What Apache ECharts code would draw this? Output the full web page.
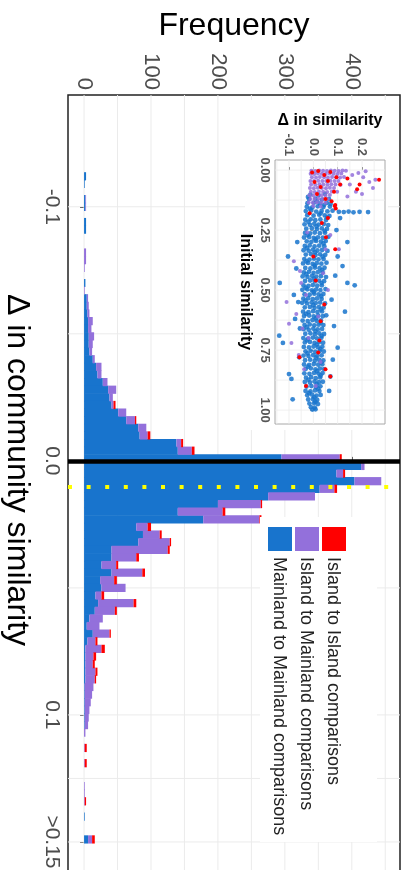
<!DOCTYPE html>
<html><head><meta charset="utf-8">
<script src="https://cdn.jsdelivr.net/npm/echarts@6/dist/echarts.min.js"></script>
<style>html,body{margin:0;padding:0;background:#fff}#c{width:409px;height:870px}</style>
</head><body><div id="c"></div><script>
// ---- histogram bins (Δ in community similarity, bin mid-points, width 0.003; last bin = ">0.15") ----
const binMid = [-0.112,-0.109,-0.106,-0.103,-0.100,-0.097,-0.094,-0.091,-0.088,-0.085,
 -0.082,-0.079,-0.076,-0.073,-0.070,-0.067,-0.064,-0.061,-0.058,-0.055,
 -0.052,-0.049,-0.046,-0.043,-0.040,-0.037,-0.034,-0.031,-0.028,-0.025,
 -0.022,-0.019,-0.016,-0.013,-0.010,-0.007,-0.004,-0.001,0.002,0.005,
 0.008,0.011,0.014,0.017,0.020,0.023,0.026,0.029,0.032,0.035,
 0.038,0.041,0.044,0.047,0.050,0.053,0.056,0.059,0.062,0.065,
 0.068,0.071,0.074,0.077,0.080,0.083,0.086,0.089,0.092,0.095,
 0.098,0.101,0.104,0.107,0.110,0.113,0.116,0.119,0.122,0.125,
 0.128,0.131,0.134,0.137,0.140,0.143,0.146,0.149];
const mainlandToMainland = [3,1,0,2,2,0,3,3,0,0,
 0,0,0,0,2,0,4,4,5,6,
 6,7,7,8,13,18,20,28,36,38,
 41,51,63,81,83,138,140,295,414,377,
 404,352,275,200,140,178,78,88,81,41,
 41,26,41,24,26,17,21,16,8,4,
 13,5,2,2,2,2,2,1,1,1,
 1,1,1,0,0,0,0,0,0,0,
 0,0,0,0,1,0,0,6];
const islandToMainland = [0,0,0,1,1,0,0,0,0,0,
 3,3,1,0,0,1,2,3,3,7,
 5,8,6,4,3,8,6,7,12,5,
 3,12,13,12,12,7,21,87,5,10,
 40,22,70,64,67,84,17,25,47,84,
 37,22,46,21,36,9,53,30,20,19,
 25,12,24,12,11,15,14,13,11,9,
 7,6,5,2,0,1,0,1,0,0,
 1,1,1,0,0,0,0,6];
const islandToIsland = [0,0,0,0,0,0,0,0,0,0,
 0,0,0,0,0,0,0,0,0,0,
 0,0,0,0,0,0,0,0,0,0,
 3,0,2,0,4,3,4,3,0,3,
 0,4,0,2,4,3,5,3,2,3,
 4,3,4,4,0,4,4,3,0,0,
 2,3,5,4,3,3,2,0,0,0,
 0,0,0,0,0,3,0,3,0,0,
 0,0,2,0,0,0,0,4];
const BIN = 0.003;
const seriesNames = ['Mainland to Mainland comparisons','Island to Mainland comparisons','Island to Island comparisons'];
const seriesColors = ['#1874CD','#9370DB','#FF0000'];
const freqTicks = [0,100,200,300,400];
const freqGrid = [0,50,100,150,200,250,300,350,400,450];
const deltaTicks = [-0.1,0,0.1,0.15];
const deltaTickLabels = ['-0.1','0.0','0.1','>0.15'];
const deltaGrid = [-0.1,-0.05,0.05,0.1,0.125,0.15];
const meanDelta = 0.0102;

// ---- inset scatter: [Δ in similarity, initial similarity] ----
const insetMainland = [
 [-0.012,0.102],[0.021,0.104],[0.048,0.099],
 [-0.018,0.121],[0.009,0.119],[0.036,0.123],[0.064,0.120],
 [-0.024,0.138],[0.002,0.136],[0.027,0.140],[0.055,0.137],[0.071,0.141],
 [-0.027,0.153],[-0.004,0.156],[0.018,0.151],[0.041,0.154],[0.068,0.152],
 [-0.031,0.171],[-0.009,0.168],[0.012,0.173],[0.034,0.170],[0.058,0.172],[0.079,0.169],
 [-0.025,0.188],[0.001,0.190],[0.024,0.186],[0.047,0.189],[0.066,0.191],
 [-0.033,0.207],[-0.011,0.205],[0.008,0.209],[0.029,0.206],[0.052,0.208],
 [-0.036,0.226],[-0.014,0.228],[0.004,0.224],[0.022,0.227],[0.043,0.225],[0.061,0.229],
 [-0.029,0.244],[-0.006,0.242],[0.015,0.246],[0.035,0.243],[0.056,0.245],
 [-0.034,0.262],[-0.013,0.264],[0.006,0.260],[0.027,0.263],[0.048,0.261],
 [-0.038,0.281],[-0.017,0.279],[0.002,0.283],[0.019,0.280],[0.039,0.282],[0.062,0.278],
 [-0.027,0.297],[-0.008,0.299],[0.011,0.295],[0.031,0.298],[0.051,0.296],
 [-0.035,0.316],[-0.015,0.314],[0.005,0.318],[0.024,0.315],[0.045,0.317],
 [-0.040,0.334],[-0.019,0.336],[-0.001,0.332],[0.017,0.335],[0.036,0.333],[0.058,0.337],
 [-0.031,0.352],[-0.010,0.350],[0.009,0.354],[0.028,0.351],[0.049,0.353],
 [-0.037,0.371],[-0.016,0.373],[0.003,0.369],[0.021,0.372],[0.042,0.370],
 [-0.042,0.389],[-0.022,0.387],[-0.003,0.391],[0.014,0.388],[0.033,0.390],[0.054,0.386],
 [-0.033,0.408],[-0.012,0.410],[0.007,0.406],[0.026,0.409],[0.046,0.407],
 [-0.039,0.426],[-0.018,0.424],[0.001,0.428],[0.019,0.425],[0.038,0.427],
 [-0.044,0.443],[-0.024,0.445],[-0.005,0.441],[0.012,0.444],[0.031,0.442],[0.052,0.446],
 [-0.034,0.462],[-0.013,0.460],[0.006,0.464],[0.024,0.461],[0.044,0.463],
 [-0.040,0.481],[-0.020,0.483],[-0.002,0.479],[0.016,0.482],[0.035,0.480],
 [-0.045,0.499],[-0.025,0.497],[-0.006,0.501],[0.011,0.498],[0.029,0.500],[0.050,0.496],
 [-0.036,0.517],[-0.015,0.519],[0.004,0.515],[0.022,0.518],[0.041,0.516],
 [-0.041,0.536],[-0.021,0.534],[-0.002,0.538],[0.015,0.535],[0.034,0.537],
 [-0.046,0.553],[-0.026,0.555],[-0.007,0.551],[0.010,0.554],[0.028,0.552],[0.048,0.556],
 [-0.035,0.572],[-0.014,0.570],[0.005,0.574],[0.023,0.571],[0.042,0.573],
 [-0.042,0.590],[-0.020,0.592],[-0.001,0.588],[0.017,0.591],[0.036,0.589],
 [-0.038,0.608],[-0.017,0.606],[0.002,0.610],[0.020,0.607],[0.039,0.609],[0.053,0.605],
 [-0.044,0.627],[-0.023,0.629],[-0.004,0.625],[0.013,0.628],[0.031,0.626],
 [-0.036,0.645],[-0.015,0.643],[0.004,0.647],[0.022,0.644],[0.041,0.646],
 [-0.040,0.663],[-0.019,0.665],[0.000,0.661],[0.018,0.664],[0.036,0.662],
 [-0.033,0.682],[-0.012,0.680],[0.007,0.684],[0.025,0.681],[0.044,0.683],
 [-0.041,0.700],[-0.021,0.702],[-0.002,0.698],[0.015,0.701],[0.033,0.699],
 [-0.035,0.718],[-0.014,0.716],[0.005,0.720],[0.023,0.717],[0.040,0.719],
 [-0.039,0.737],[-0.018,0.739],[0.001,0.735],[0.019,0.738],[0.037,0.736],
 [-0.032,0.755],[-0.011,0.753],[0.008,0.757],[0.026,0.754],[0.043,0.756],
 [-0.040,0.773],[-0.020,0.775],[-0.001,0.771],[0.016,0.774],[0.034,0.772],
 [-0.034,0.792],[-0.013,0.790],[0.006,0.794],[0.024,0.791],[0.041,0.793],
 [-0.038,0.810],[-0.017,0.812],[0.002,0.808],[0.020,0.811],[0.037,0.809],
 [-0.031,0.828],[-0.010,0.826],[0.009,0.830],[0.027,0.827],[0.044,0.829],
 [-0.037,0.847],[-0.016,0.849],[0.003,0.845],[0.021,0.848],[0.038,0.846],
 [-0.030,0.865],[-0.009,0.863],[0.010,0.867],[0.028,0.864],
 [-0.035,0.883],[-0.014,0.885],[0.005,0.881],[0.023,0.884],[0.039,0.882],
 [-0.028,0.902],[-0.008,0.900],[0.011,0.904],[0.029,0.901],
 [-0.032,0.920],[-0.012,0.922],[0.007,0.918],[0.025,0.921],
 [-0.025,0.938],[-0.005,0.936],[0.013,0.940],[0.030,0.937],
 [-0.021,0.956],[-0.002,0.954],[0.016,0.958],
 [-0.016,0.973],[0.003,0.971],[0.019,0.975],
 [-0.010,0.988],[0.006,0.990],[-0.004,0.998],[0.009,0.997],
 [-0.022,0.112],[0.015,0.130],[0.044,0.146],[-0.014,0.161],[0.030,0.180],[0.057,0.198],
 [-0.020,0.216],[0.013,0.235],[0.046,0.253],[-0.024,0.271],[0.009,0.289],[0.041,0.306],
 [-0.026,0.325],[0.007,0.343],[0.038,0.361],[-0.028,0.380],[0.005,0.398],[0.036,0.417],
 [-0.029,0.434],[0.003,0.452],[0.034,0.471],[-0.031,0.490],[0.001,0.508],[0.032,0.526],
 [-0.032,0.544],[0.000,0.563],[0.031,0.581],[-0.030,0.599],[0.011,0.617],[0.030,0.636],
 [-0.027,0.654],[0.009,0.672],[0.034,0.691],[-0.026,0.709],[0.014,0.727],[0.029,0.746],
 [-0.024,0.764],[0.011,0.782],[0.032,0.801],[-0.022,0.819],[0.015,0.838],[0.030,0.856],
 [-0.020,0.874],[0.014,0.892],[0.020,0.911],[-0.018,0.929],[0.004,0.947],[0.008,0.965],
 [-0.138,0.47],[-0.140,0.69],[-0.125,0.72],[-0.104,0.36],[-0.090,0.87],[-0.085,0.955],
 [-0.100,0.85],[-0.075,0.62],[-0.062,0.55],[-0.070,0.41],[-0.058,0.78],[-0.066,0.30],
 [-0.055,0.66],[-0.080,0.52],[0.140,0.30],[0.120,0.40],[0.140,0.47],[0.170,0.48],
 [0.130,0.59],[0.100,0.74],[0.070,0.86],[0.085,0.65],[0.075,0.54],[0.090,0.44],
 [0.065,0.92],[0.080,0.79],[0.100,0.36],[0.105,0.174],[0.125,0.175],[0.145,0.173],
 [0.165,0.176],[0.190,0.174],[0.225,0.175],[0.110,0.200],[0.095,0.250]
];
const insetIslandMainland = [
 [-0.008,0.003],[0.008,0.004],[0.024,0.002],[0.040,0.003],[0.056,0.004],[0.072,0.002],[0.088,0.003],[0.104,0.004],[0.120,0.002],[0.134,0.003],
 [-0.011,0.015],[0.004,0.016],[0.019,0.014],[0.035,0.015],[0.051,0.016],[0.067,0.014],[0.083,0.015],[0.099,0.016],[0.115,0.014],
 [-0.006,0.030],[0.011,0.031],[0.027,0.029],[0.044,0.030],[0.060,0.031],[0.077,0.029],[0.094,0.030],[0.110,0.031],[0.126,0.029],
 [-0.012,0.045],[0.003,0.046],[0.020,0.044],[0.037,0.045],[0.053,0.046],[0.070,0.044],[0.087,0.045],[0.103,0.046],
 [-0.009,0.060],[0.008,0.061],[0.025,0.059],[0.041,0.060],[0.058,0.061],[0.074,0.059],[0.091,0.060],[0.112,0.061],
 [-0.014,0.075],[0.002,0.076],[0.018,0.074],[0.035,0.075],[0.052,0.076],[0.068,0.074],[0.085,0.075],
 [-0.010,0.090],[0.006,0.091],[0.023,0.089],[0.040,0.090],[0.057,0.091],[0.076,0.089],[0.098,0.090],
 [-0.016,0.105],[0.000,0.106],[0.017,0.104],[0.034,0.105],[0.050,0.106],[0.068,0.104],
 [-0.012,0.120],[0.005,0.121],[0.022,0.119],[0.039,0.120],[0.058,0.121],
 [-0.019,0.135],[-0.002,0.136],[0.015,0.134],[0.033,0.135],[0.050,0.136],
 [0.000,0.150],[0.030,0.152],
 [0.160,0.020],[0.185,0.012],[0.205,0.030],[0.230,0.050],[0.245,0.075],[0.255,0.040],
 [0.150,0.060],[0.175,0.090],[0.200,0.100],[0.140,0.110],[0.215,0.005],
 [-0.110,0.55],[-0.090,0.72],[-0.070,0.60],[-0.060,0.77],[-0.050,0.47],[-0.045,0.66],
 [-0.080,0.38],[-0.030,0.52],[0.040,0.43],[0.020,0.61],[-0.020,0.70],[0.060,0.50],
 [-0.055,0.42],[0.030,0.80],[-0.038,0.83],[0.050,0.33],[0.070,0.27],[-0.025,0.26],
 [0.010,0.90],[-0.100,0.64],[0.105,0.33]
];
const insetIslandIsland = [
 [-0.005,0.010],[0.020,0.004],[0.045,0.020],[0.070,0.008],[0.095,0.030],[0.005,0.050],
 [0.030,0.070],[0.060,0.045],[0.085,0.090],[0.110,0.060],[0.015,0.100],[0.050,0.120],
 [0.075,0.130],[0.090,0.145],[0.092,0.160],[0.088,0.150],[0.270,0.040],[0.190,0.060],
 [0.180,0.080],[0.140,0.035],[0.052,0.280],[0.090,0.330],[0.010,0.460],[0.045,0.560],
 [0.030,0.630],[-0.057,0.780],[0.050,0.830],[0.020,0.760],[0.070,0.860],[-0.030,0.900],
 [0.000,0.360],[0.035,0.220],[-0.015,0.180],[0.060,0.200],[0.025,0.710]
];
const insetXTicks = [-0.1,0,0.1,0.2];
const insetXLabels = ['-0.1','0.0','0.1','0.2'];
const insetXGrid = [-0.15,-0.1,-0.05,0,0.05,0.1,0.15,0.2,0.25];
const insetYTicks = [0,0.25,0.5,0.75,1];
const insetYLabels = ['0.00','0.25','0.50','0.75','1.00'];
const insetYGrid = [0,0.125,0.25,0.375,0.5,0.625,0.75,0.875,1];

// ---- build stacked segments ----
const countSets = [mainlandToMainland, islandToMainland, islandToIsland];
const stackedData = countSets.map(() => []);
binMid.forEach((m, i) => {
  let base = 0;
  countSets.forEach((arr, s) => {
    const v = arr[i];
    if (v > 0) stackedData[s].push([m, base, base + v]);
    base += v;
  });
});
function renderBar(params, api) {
  const mid = api.value(0), a = api.value(1), b = api.value(2);
  const p0 = api.coord([a, mid - BIN / 2]);
  const p1 = api.coord([b, mid + BIN / 2]);
  return {type: 'rect', shape: {x: Math.min(p0[0], p1[0]), y: Math.min(p0[1], p1[1]) - 0.3,
    width: Math.abs(p1[0] - p0[0]), height: Math.abs(p1[1] - p0[1]) + 0.6},
    style: {fill: api.visual('color')}};
}
function gridLineRenderer(vertical, color, width) {
  return function (params, api) {
    const cs = params.coordSys;
    const p = api.coord([api.value(0), api.value(1)]);
    const shape = vertical ? {x1: p[0], y1: cs.y, x2: p[0], y2: cs.y + cs.height}
                           : {x1: cs.x, y1: p[1], x2: cs.x + cs.width, y2: p[1]};
    return {type: 'line', shape: shape, style: {stroke: color, lineWidth: width}};
  };
}
function labelFor(ticks, labels) {
  return v => { for (let i = 0; i < ticks.length; i++) if (Math.abs(ticks[i] - v) < 1e-9) return labels[i]; return ''; };
}
const FONT = 'Liberation Sans, Arial, sans-serif';
const chart = echarts.init(document.getElementById('c'), null, {renderer: 'canvas'});
const barSeries = seriesNames.map((n, s) => ({
  type: 'custom', name: n, xAxisIndex: 0, yAxisIndex: 0, z: 2,
  itemStyle: {color: seriesColors[s]}, renderItem: renderBar,
  encode: {x: [1, 2], y: 0}, data: stackedData[s], silent: true
}));
const insetSets = [insetMainland, insetIslandMainland, insetIslandIsland];
const insetSeries = insetSets.map((d, s) => ({
  type: 'scatter', name: seriesNames[s], xAxisIndex: 1, yAxisIndex: 1, z: 6,
  symbolSize: s === 0 ? 4.8 : 4, itemStyle: {color: seriesColors[s], opacity: s === 2 ? 1 : 0.85},
  data: d, silent: true
}));
const legendGraphics = [];
const legX = [268, 295, 322];
seriesNames.forEach((n, s) => {
  legendGraphics.push({type: 'rect', z: 20, shape: {x: legX[s], y: 527, width: 24, height: 24}, style: {fill: seriesColors[s]}});
  legendGraphics.push({type: 'text', z: 20, x: legX[s] + 11, y: 557, rotation: -Math.PI / 2,
    style: {text: n, fontSize: 18, fontFamily: FONT, fill: '#222', textAlign: 'left', align: 'left', textVerticalAlign: 'middle', verticalAlign: 'middle'}});
});
function gridSeries(xi, data, vertical, color, width, z) {
  return {type: 'custom', xAxisIndex: xi, yAxisIndex: xi, z: z, silent: true,
    renderItem: gridLineRenderer(vertical, color, width), encode: {x: 0, y: 1}, data: data};
}
chart.setOption({
  animation: false,
  textStyle: {fontFamily: FONT},
  grid: [
    {left: 68, top: 95, width: 332, height: 780, show: true, borderColor: '#222', borderWidth: 1.5, backgroundColor: 'transparent', outerBoundsMode: 'none', containLabel: false},
    {left: 275, top: 160, width: 110, height: 264, show: true, borderColor: '#a8a8a8', borderWidth: 1, backgroundColor: 'transparent', z: 4, outerBoundsMode: 'none', containLabel: false}
  ],
  xAxis: [
    {type: 'value', gridIndex: 0, position: 'top', min: -24, max: 472,
     name: 'Frequency', nameLocation: 'middle', nameGap: 53,
     nameTextStyle: {fontSize: 32, color: '#000', fontFamily: FONT},
     axisLine: {show: false}, splitLine: {show: false},
     axisTick: {show: true, customValues: freqTicks, length: 4, lineStyle: {color: '#333', width: 1}},
     axisLabel: {customValues: freqTicks, rotate: -90, fontSize: 22, color: '#4d4d4d', margin: 5}},
    {type: 'value', gridIndex: 1, position: 'top', min: -0.1575, max: 0.2945, z: 4,
     name: 'Δ in similarity', nameLocation: 'middle', nameGap: 31,
     nameTextStyle: {fontSize: 16, fontWeight: 'bold', color: '#000', fontFamily: FONT},
     axisLine: {show: false}, splitLine: {show: false},
     axisTick: {show: true, customValues: insetXTicks, length: 3, lineStyle: {color: '#555'}},
     axisLabel: {customValues: insetXTicks, formatter: labelFor(insetXTicks, insetXLabels), rotate: -90, fontSize: 13, fontWeight: 'bold', color: '#555', margin: 4}}
  ],
  yAxis: [
    {type: 'value', gridIndex: 0, inverse: true, min: -0.144, max: 0.163,
     name: 'Δ in community similarity', nameLocation: 'middle', nameRotate: -90, nameGap: 34,
     nameTextStyle: {fontSize: 32, color: '#000', fontFamily: FONT, padding: [0, 30, 0, 0]},
     axisLine: {show: false}, splitLine: {show: false},
     axisTick: {show: true, customValues: deltaTicks, length: 4, lineStyle: {color: '#333', width: 1}},
     axisLabel: {customValues: deltaTicks, formatter: labelFor(deltaTicks, deltaTickLabels), rotate: -90, fontSize: 21, color: '#4d4d4d', margin: 6}},
    {type: 'value', gridIndex: 1, inverse: true, min: -0.042, max: 1.058, z: 4,
     name: 'Initial similarity', nameLocation: 'middle', nameRotate: -90, nameGap: 22,
     nameTextStyle: {fontSize: 16, fontWeight: 'bold', color: '#000', fontFamily: FONT},
     axisLine: {show: false}, splitLine: {show: false},
     axisTick: {show: true, customValues: insetYTicks, length: 3, lineStyle: {color: '#555'}},
     axisLabel: {customValues: insetYTicks, formatter: labelFor(insetYTicks, insetYLabels), rotate: -90, fontSize: 13, fontWeight: 'bold', color: '#555', margin: 4}}
  ],
  graphic: {elements: [
    {type: 'rect', z: 3, shape: {x: 245, y: 100, width: 143, height: 330}, style: {fill: '#fff'}},
    {type: 'rect', z: 3, shape: {x: 260, y: 517, width: 117, height: 325}, style: {fill: '#fff'}}
  ].concat(legendGraphics)},
  series: [
    gridSeries(0, freqGrid.map(v => [v, 0]), true, '#ebebeb', 1, 1),
    gridSeries(0, deltaGrid.map(v => [0, v]), false, '#ebebeb', 1, 1),
    gridSeries(1, insetXGrid.map(v => [v, 0.5]), true, '#ececec', 0.8, 5),
    gridSeries(1, insetYGrid.map(v => [0, v]), false, '#ececec', 0.8, 5),
    ...barSeries,
    ...insetSeries,
    {type: 'line', xAxisIndex: 0, yAxisIndex: 0, data: [], z: 7, silent: true,
     markLine: {silent: true, symbol: ['none', 'none'], label: {show: false}, animation: false,
       data: [
         {yAxis: 0, lineStyle: {color: '#000', width: 4.5, type: 'solid'}},
         {yAxis: meanDelta, lineStyle: {color: '#FFFF00', width: 4, type: [4, 14.6], cap: 'butt'}}
       ]}}
  ]
});
</script></body></html>
